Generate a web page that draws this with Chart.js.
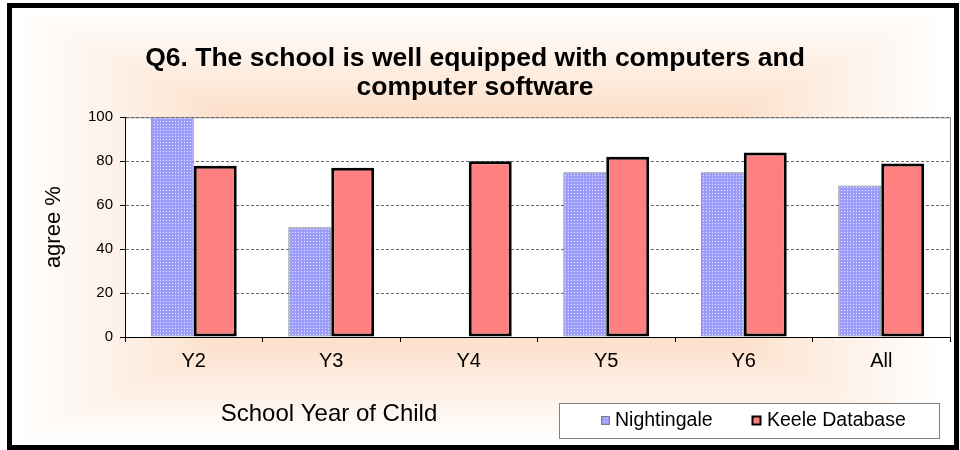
<!DOCTYPE html>
<html>
<head>
<meta charset="utf-8">
<script src="https://cdn.jsdelivr.net/npm/chart.js@4/dist/chart.umd.min.js"></script>
<style>
  body { margin: 0; background: #fff; }
  #wrap { width: 960px; height: 450px; }
</style>
</head>
<body>
<div id="wrap"><canvas id="myChart" width="960" height="450"></canvas></div>
<script>
let categories = ["Y2", "Y3", "Y4", "Y5", "Y6", "All"];
let nightingale = [100, 50, 0, 75, 75, 69];
let keele = [78, 77, 80, 82, 84, 79];
let seriesNames = ["Nightingale", "Keele Database"];
let titleLines = ["Q6. The school is well equipped with computers and", "computer software"];
let yTitle = "agree %";
let xTitle = "School Year of Child";

// dotted lavender fill like the excel pattern
function dotPattern(){
  let c = document.createElement("canvas");
  c.width = 3; c.height = 3;
  let g = c.getContext("2d");
  g.fillStyle = "#9c9cfa";
  g.fillRect(0, 0, 3, 3);
  g.fillStyle = "#e4e4ff";
  g.fillRect(1, 1, 1, 1);
  return g.createPattern(c, "repeat");
}
let ctx = document.getElementById("myChart").getContext("2d");
let blueFill = dotPattern();

function mix(a, b, t){
  return "rgb(" + a.map((v, i) => Math.round(v + (b[i] - v) * t)).join(",") + ")";
}

let decor = {
  id: "decor",
  beforeDraw(chart){
    let c = chart.ctx, a = chart.chartArea;
    c.save();
    c.fillStyle = "#fff";
    c.fillRect(0, 0, chart.width, chart.height);
    // rectangular peach glow, fading out to the frame
    let steps = 150;
    for(let k = 0; k <= steps; k++){
      let f = k / steps;
      let col = f < 0.45
        ? mix([255, 255, 255], [252, 226, 206], Math.pow(f / 0.45, 1.1))
        : mix([252, 226, 206], [249, 208, 176], (f - 0.45) / 0.55);
      c.fillStyle = col;
      let x = 12 + f * 440, y = 8 + f * 215;
      c.fillRect(x, y, 936 - 2 * f * 440, 437 - 2 * f * 215);
    }
    c.restore();
    c.save();
    c.fillStyle = "#fff";
    c.fillRect(a.left, a.top, a.right - a.left, a.bottom - a.top);
    c.strokeStyle = "#8c8c8c";
    c.lineWidth = 1;
    c.strokeRect(a.left + 0.5, a.top + 0.5, a.right - a.left, a.bottom - a.top);
    c.restore();
  },
  afterDraw(chart){
    let c = chart.ctx;
    c.save();
    // outer frame
    c.strokeStyle = "#000";
    c.lineWidth = 5;
    c.strokeRect(9.5, 5.5, 947, 442);
    // x axis title
    c.fillStyle = "#000";
    c.font = "24px Arial, 'Liberation Sans'";
    c.textAlign = "center";
    c.textBaseline = "middle";
    c.fillText(xTitle, 329, 414);
    // legend
    c.fillStyle = "#fff";
    c.fillRect(559, 403, 380, 35);
    c.strokeStyle = "#808080";
    c.lineWidth = 1;
    c.strokeRect(559.5, 403.5, 380, 35);
    let spots = [[601, 615], [752, 767]];
    c.font = "19.5px Arial, 'Liberation Sans'";
    c.textAlign = "left";
    chart.data.datasets.forEach((ds, i) => {
      let [mx, tx] = spots[i];
      c.fillStyle = ds.backgroundColor;
      c.fillRect(mx, 416, 9, 9);
      c.strokeStyle = i == 0 ? "#808080" : "#000";
      c.lineWidth = i == 0 ? 1 : 2;
      c.strokeRect(mx + 0.5, 416.5, 8, 8);
      c.fillStyle = "#000";
      c.fillText(ds.label, tx, 421);
    });
    c.restore();
  }
};

new Chart(ctx, {
  type: "bar",
  data: {
    labels: categories,
    datasets: [{
      label: seriesNames[0],
      data: nightingale,
      backgroundColor: blueFill,
      borderColor: "#808080",
      borderWidth: 1,
      borderSkipped: false,
      categoryPercentage: 0.625,
      barPercentage: 1
    }, {
      label: seriesNames[1],
      data: keele,
      backgroundColor: "#ff8080",
      borderColor: "#000",
      borderWidth: 3,
      borderSkipped: false,
      categoryPercentage: 0.625,
      barPercentage: 1
    }]
  },
  options: {
    responsive: false,
    animation: false,
    layout: { padding: { top: 0, right: 10, bottom: 0, left: 0 } },
    plugins: {
      legend: { display: false },
      tooltip: { enabled: false },
      title: {
        display: true,
        text: titleLines,
        color: "#000",
        font: { family: "Arial, 'Liberation Sans'", size: 26.5, weight: "bold", lineHeight: 1.1 },
        padding: { top: 44, bottom: 15 }
      }
    },
    scales: {
      x: {
        afterFit: (s) => { s.height = 113; },
        ticks: { color: "#000", font: { family: "Arial, 'Liberation Sans'", size: 20 }, padding: 7 },
        grid: { drawOnChartArea: false, tickLength: 5, tickColor: "#000", offset: true },
        border: { color: "#000", width: 1 }
      },
      y: {
        min: 0,
        max: 100,
        afterFit: (s) => { s.width = 125; },
        ticks: { stepSize: 20, color: "#000", font: { family: "Arial, 'Liberation Sans'", size: 15 }, padding: 7 },
        grid: { color: "#666", tickLength: 5, tickColor: "#000" },
        border: { color: "#000", width: 1, dash: [3, 2] },
        title: {
          display: true,
          text: yTitle,
          color: "#000",
          font: { family: "Arial, 'Liberation Sans'", size: 22 },
          padding: { top: 41 }
        }
      }
    }
  },
  plugins: [decor]
});
</script>
</body>
</html>
